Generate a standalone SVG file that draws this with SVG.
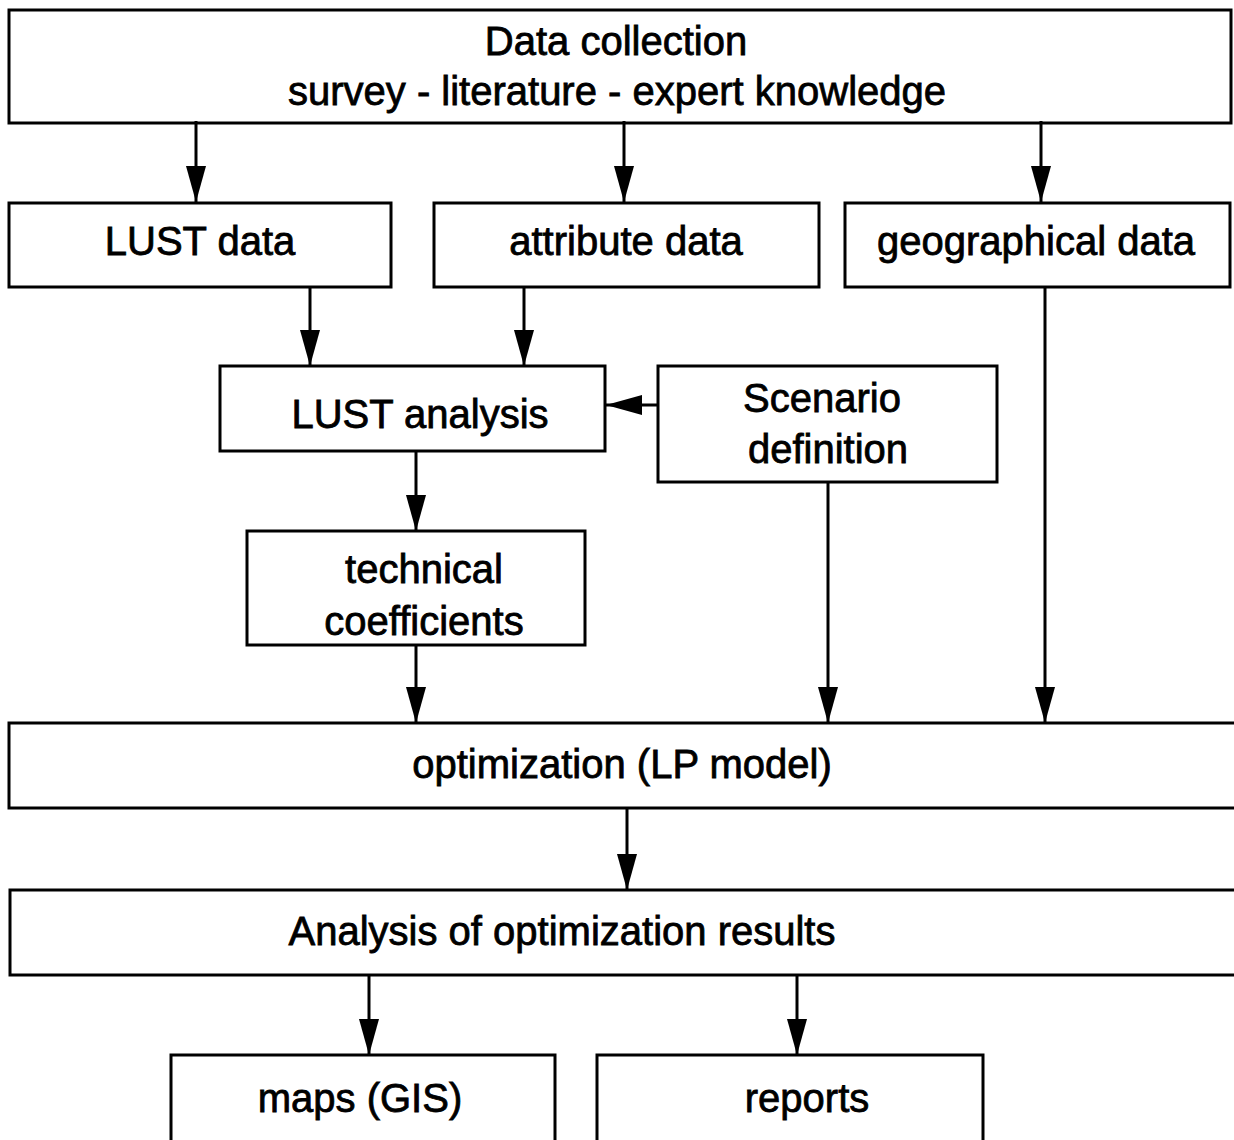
<svg xmlns="http://www.w3.org/2000/svg" width="1234" height="1140" viewBox="0 0 1234 1140">
  <defs>
    <marker id="arrow" viewBox="0 0 36 20" refX="36" refY="10" markerWidth="36" markerHeight="20" markerUnits="userSpaceOnUse" orient="auto">
      <path d="M0,0 L36,10 L0,20 Z" fill="#000"/>
    </marker>
    <style>
      rect { fill: #fff; stroke: #000; stroke-width: 3; }
      text { font-family: "Liberation Sans", Arial, sans-serif; font-size: 40px; fill: #000; stroke: #000; stroke-width: 0.8; text-anchor: middle; }
      .conn line { stroke: #000; stroke-width: 3; marker-end: url(#arrow); }
    </style>
  </defs>
  <rect x="0" y="0" width="1234" height="1140" style="fill:#fff;stroke:none"/>

  <g id="data-collection">
    <rect x="9" y="10" width="1222" height="113"/>
    <text x="616" y="55">Data collection</text>
    <text x="617" y="105">survey - literature - expert knowledge</text>
  </g>
  <g id="lust-data">
    <rect x="9" y="203" width="382" height="84"/>
    <text x="200" y="255">LUST data</text>
  </g>
  <g id="attribute-data">
    <rect x="434" y="203" width="385" height="84"/>
    <text x="626" y="255">attribute data</text>
  </g>
  <g id="geographical-data">
    <rect x="845" y="203" width="385" height="84"/>
    <text x="1036" y="255">geographical data</text>
  </g>
  <g id="lust-analysis">
    <rect x="220" y="366" width="385" height="85"/>
    <text x="420" y="428">LUST analysis</text>
  </g>
  <g id="scenario-definition">
    <rect x="658" y="366" width="339" height="116"/>
    <text x="822" y="412">Scenario</text>
    <text x="828" y="463">definition</text>
  </g>
  <g id="technical-coefficients">
    <rect x="247" y="531" width="338" height="114"/>
    <text x="424" y="583">technical</text>
    <text x="424" y="635">coefficients</text>
  </g>
  <g id="optimization">
    <rect x="9" y="723" width="1240" height="85"/>
    <text x="622" y="778">optimization (LP model)</text>
  </g>
  <g id="results-analysis">
    <rect x="10" y="890" width="1240" height="85"/>
    <text x="562" y="945">Analysis of optimization results</text>
  </g>
  <g id="maps">
    <rect x="171" y="1055" width="384" height="100"/>
    <text x="360" y="1112">maps (GIS)</text>
  </g>
  <g id="reports">
    <rect x="597" y="1055" width="386" height="100"/>
    <text x="807" y="1112">reports</text>
  </g>

  <g id="connectors" class="conn">
    <line x1="196" y1="121" x2="196" y2="202"/>
    <line x1="624" y1="121" x2="624" y2="202"/>
    <line x1="1041" y1="121" x2="1041" y2="202"/>
    <line x1="310" y1="287" x2="310" y2="366"/>
    <line x1="524" y1="287" x2="524" y2="366"/>
    <line x1="658" y1="405" x2="606" y2="405"/>
    <line x1="416" y1="451" x2="416" y2="531"/>
    <line x1="416" y1="645" x2="416" y2="723"/>
    <line x1="828" y1="482" x2="828" y2="723"/>
    <line x1="1045" y1="287" x2="1045" y2="723"/>
    <line x1="627" y1="808" x2="627" y2="890"/>
    <line x1="369" y1="975" x2="369" y2="1055"/>
    <line x1="797" y1="975" x2="797" y2="1055"/>
  </g>
</svg>
